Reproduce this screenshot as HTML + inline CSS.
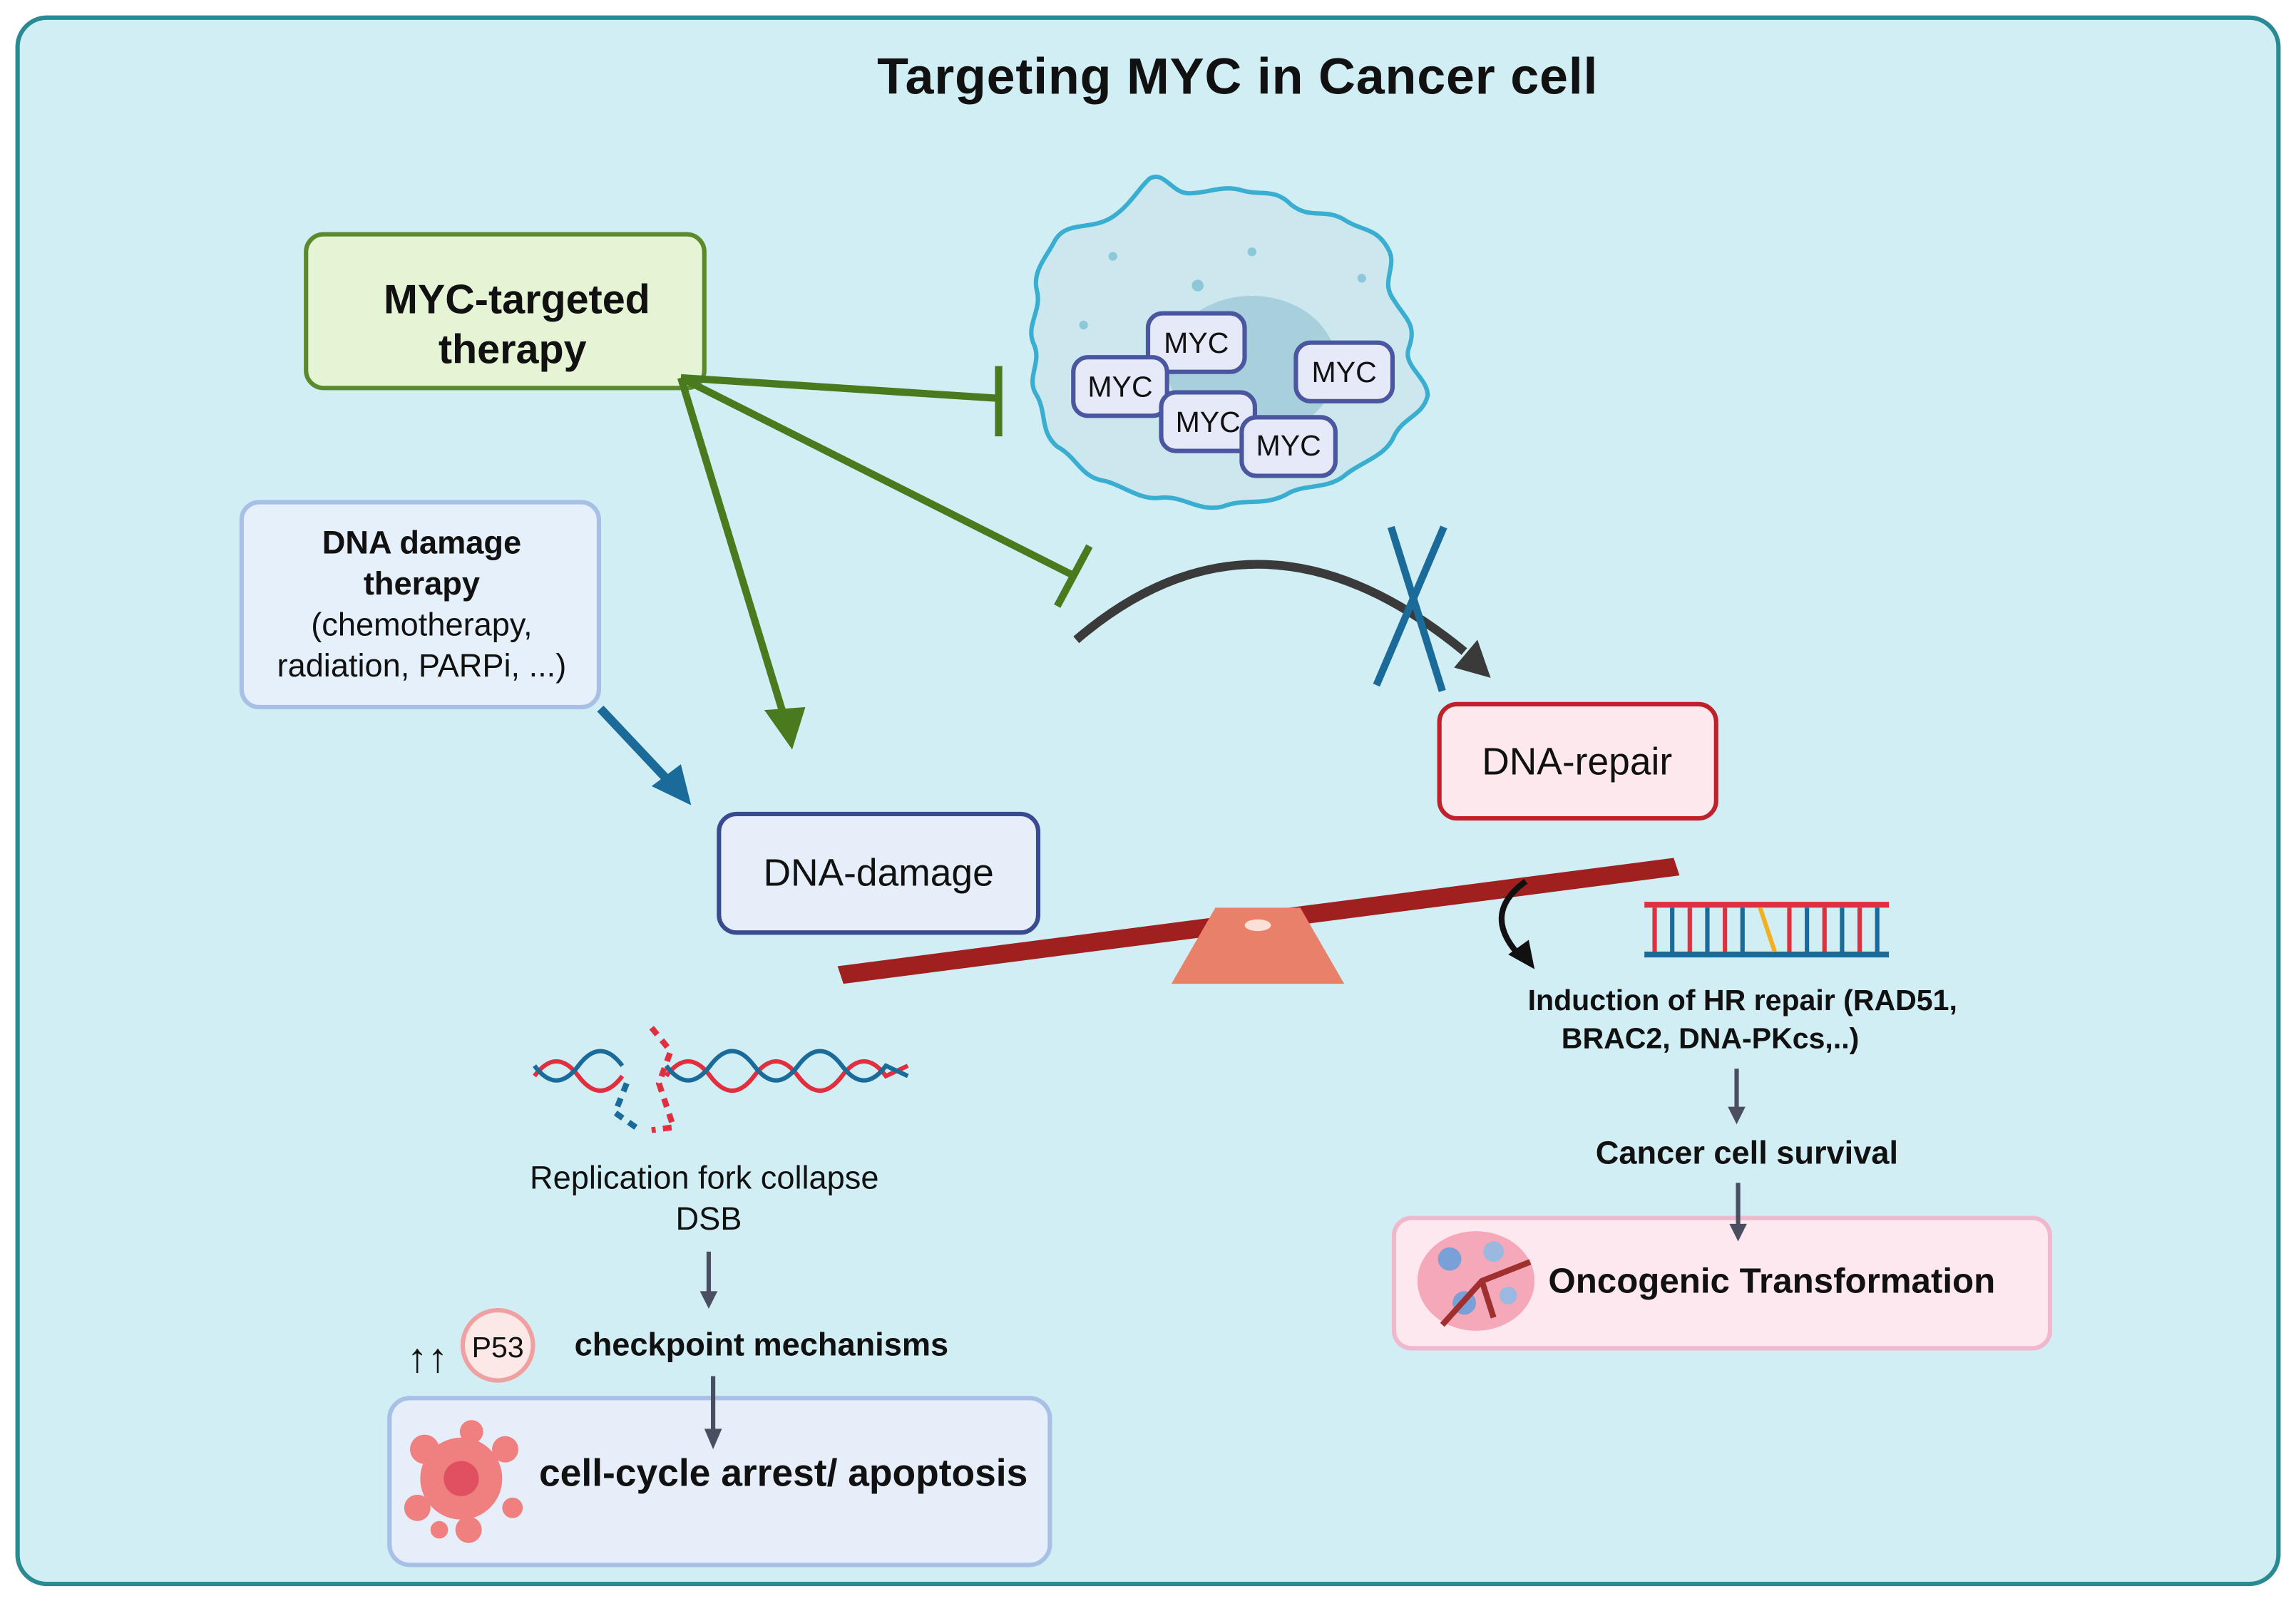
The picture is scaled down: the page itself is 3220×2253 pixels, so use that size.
<!DOCTYPE html>
<html><head><meta charset="utf-8"><style>
html,body{margin:0;padding:0;background:#fff}
svg{display:block}
text{font-family:"Liberation Sans",sans-serif}
</style></head><body>
<svg width="3220" height="2253" viewBox="0 0 1568 1097" xmlns="http://www.w3.org/2000/svg">
<rect x="12" y="12" width="1544" height="1070" rx="20" fill="#d1eef4" stroke="#2a8a94" stroke-width="3"/>
<text x="845" y="64" font-size="35" font-weight="bold" text-anchor="middle" fill="#111" textLength="492">Targeting MYC in Cancer cell</text>

<!-- cell -->
<path d="M720,165 C728,150 745,158 760,148 C772,140 778,128 785,122 C795,116 800,132 812,132 C825,132 835,126 848,130 C862,134 870,128 882,140 C895,150 905,142 918,150 C930,158 940,155 948,170 C955,182 942,192 952,205 C960,218 968,222 962,238 C958,250 975,258 975,270 C972,284 958,285 952,298 C946,312 930,315 918,325 C905,335 890,330 878,338 C862,346 850,340 835,346 C818,350 808,338 792,340 C778,342 765,330 752,328 C738,325 735,312 722,305 C710,295 715,282 708,270 C700,258 712,248 706,235 C700,222 712,212 708,198 C705,185 715,175 720,165 Z" fill="#cde7ef" stroke="#3aaed0" stroke-width="3"/>
<ellipse cx="855" cy="250" rx="58" ry="48" fill="#a7cfdc"/>
<circle cx="760" cy="175" r="3" fill="#8cc8d8"/><circle cx="818" cy="195" r="4" fill="#8cc8d8"/><circle cx="930" cy="190" r="3" fill="#8cc8d8"/><circle cx="740" cy="222" r="3" fill="#8cc8d8"/><circle cx="855" cy="172" r="3" fill="#8cc8d8"/>
<g font-size="20" text-anchor="middle" fill="#111">
<rect x="784" y="214" width="66" height="40" rx="10" fill="#e6eaf8" stroke="#4a56a0" stroke-width="3"/><text x="817" y="241">MYC</text>
<rect x="733" y="244" width="64" height="40" rx="10" fill="#e6eaf8" stroke="#4a56a0" stroke-width="3"/><text x="765" y="271">MYC</text>
<rect x="885" y="234" width="66" height="40" rx="10" fill="#e6eaf8" stroke="#4a56a0" stroke-width="3"/><text x="918" y="261">MYC</text>
<rect x="793" y="268" width="64" height="40" rx="10" fill="#e6eaf8" stroke="#4a56a0" stroke-width="3"/><text x="825" y="295">MYC</text>
<rect x="848" y="285" width="64" height="40" rx="10" fill="#e6eaf8" stroke="#4a56a0" stroke-width="3"/><text x="880" y="311">MYC</text>
</g>

<rect x="209" y="160" width="272" height="105" rx="12" fill="#e6f4d6" stroke="#5a8a2a" stroke-width="3"/>
<text x="353" y="214" font-size="28" font-weight="bold" text-anchor="middle" fill="#111">MYC-targeted</text>
<text x="350" y="248" font-size="28" font-weight="bold" text-anchor="middle" fill="#111">therapy</text>

<g stroke="#4a7a1e" stroke-width="5" fill="none">
<line x1="465" y1="258" x2="681" y2="272"/>
<line x1="682" y1="250" x2="682" y2="298"/>
<line x1="465" y1="258" x2="733" y2="393"/>
<line x1="722" y1="414" x2="744" y2="373"/>
<line x1="465" y1="258" x2="535" y2="488"/>
</g>
<polygon points="522,485 550,483 541,512" fill="#4a7a1e"/>

<rect x="165" y="343" width="244" height="140" rx="12" fill="#e6f0fa" stroke="#a8c0e6" stroke-width="3"/>
<g font-size="22" text-anchor="middle" fill="#111">
<text x="288" y="378" font-weight="bold">DNA damage</text>
<text x="288" y="406" font-weight="bold">therapy</text>
<text x="288" y="434">(chemotherapy,</text>
<text x="288" y="462">radiation, PARPi, ...)</text>
</g>
<line x1="410" y1="484" x2="458" y2="535" stroke="#1a6a9a" stroke-width="6"/>
<polygon points="445,537 472,550 465,522" fill="#1a6a9a"/>

<path d="M735,437 Q860,330 1000,445" stroke="#3a3a3a" stroke-width="6" fill="none"/>
<polygon points="993,456 1018,463 1009,437" fill="#3a3a3a"/>
<line x1="940" y1="468" x2="986" y2="360" stroke="#1a6a9a" stroke-width="5"/>
<line x1="950" y1="360" x2="985" y2="472" stroke="#1a6a9a" stroke-width="5"/>

<rect x="491" y="556" width="218" height="81" rx="12" fill="#e6eefa" stroke="#3a4a90" stroke-width="3"/>
<text x="600" y="605" font-size="26" text-anchor="middle" fill="#111">DNA-damage</text>
<rect x="983" y="481" width="189" height="78" rx="12" fill="#fde8ee" stroke="#c0202a" stroke-width="3"/>
<text x="1077" y="529" font-size="26" text-anchor="middle" fill="#111">DNA-repair</text>

<polygon points="572,660 1143,586 1147,598 576,672" fill="#a02020"/>
<polygon points="800,672 918,672 888,620 830,620" fill="#e8806a"/>
<ellipse cx="859" cy="632" rx="9" ry="4" fill="#fbe0d8"/>
<path d="M1042,602 Q1010,625 1040,655" stroke="#111" stroke-width="4" fill="none"/>
<polygon points="1030,652 1048,662 1044,642" fill="#111"/>

<g>
<rect x="1123" y="616" width="167" height="4" fill="#e03040"/>
<rect x="1123" y="650" width="167" height="4" fill="#1a6a9a"/>
<g stroke-width="3">
<line x1="1130" y1="620" x2="1130" y2="650" stroke="#e03040"/><line x1="1142" y1="620" x2="1142" y2="650" stroke="#1a6a9a"/><line x1="1154" y1="620" x2="1154" y2="650" stroke="#e03040"/><line x1="1166" y1="620" x2="1166" y2="650" stroke="#1a6a9a"/><line x1="1178" y1="620" x2="1178" y2="650" stroke="#e03040"/><line x1="1190" y1="620" x2="1190" y2="650" stroke="#1a6a9a"/><line x1="1202" y1="620" x2="1212" y2="650" stroke="#f0b020"/><line x1="1222" y1="620" x2="1222" y2="650" stroke="#e03040"/><line x1="1234" y1="620" x2="1234" y2="650" stroke="#1a6a9a"/><line x1="1246" y1="620" x2="1246" y2="650" stroke="#e03040"/><line x1="1258" y1="620" x2="1258" y2="650" stroke="#1a6a9a"/><line x1="1270" y1="620" x2="1270" y2="650" stroke="#e03040"/><line x1="1282" y1="620" x2="1282" y2="650" stroke="#1a6a9a"/>
</g></g>
<g font-size="20" font-weight="bold" text-anchor="middle" fill="#111">
<text x="1190" y="690">Induction of HR repair (RAD51,</text>
<text x="1168" y="716">BRAC2, DNA-PKcs,..)</text>
</g>
<line x1="1186" y1="730" x2="1186" y2="758" stroke="#4a4e60" stroke-width="3"/><polygon points="1180,756 1192,756 1186,768" fill="#4a4e60"/>
<text x="1193" y="795" font-size="22" font-weight="bold" text-anchor="middle" fill="#111">Cancer cell survival</text>

<rect x="952" y="832" width="448" height="89" rx="12" fill="#fde8f0" stroke="#f0b8cc" stroke-width="3"/>
<line x1="1187" y1="808" x2="1187" y2="838" stroke="#4a4e60" stroke-width="3"/><polygon points="1181,836 1193,836 1187,848" fill="#4a4e60"/>
<ellipse cx="1008" cy="875" rx="40" ry="34" fill="#f4a8b8"/>
<circle cx="990" cy="860" r="8" fill="#7aa0d8"/><circle cx="1020" cy="855" r="7" fill="#9ab8e0"/><circle cx="1000" cy="890" r="8" fill="#7aa0d8"/><circle cx="1030" cy="885" r="6" fill="#9ab8e0"/>
<path d="M985,905 L1012,875 L1045,862 M1012,875 L1020,900" stroke="#a03030" stroke-width="4" fill="none"/>
<text x="1210" y="883" font-size="24" font-weight="bold" text-anchor="middle" fill="#111">Oncogenic Transformation</text>

<g fill="none" stroke-width="3">
<path d="M365,735 Q380,715 395,735 T425,735" stroke="#e03040"/>
<path d="M365,728 Q380,748 395,728 T425,728" stroke="#1a6a9a"/>
<path d="M455,735 Q470,715 485,735 T515,735 T545,735 T575,735 T605,735 L620,728" stroke="#e03040"/>
<path d="M455,728 Q470,748 485,728 T515,728 T545,728 T575,728 T605,728 L620,735" stroke="#1a6a9a"/>
<path d="M445,702 L458,718 L450,740 L460,770 L445,772" stroke="#e03040" stroke-dasharray="6,5" stroke-width="4"/>
<path d="M428,740 L420,760 L437,772" stroke="#1a6a9a" stroke-dasharray="6,5" stroke-width="4"/>
</g>
<text x="481" y="812" font-size="22" text-anchor="middle" fill="#111">Replication fork collapse</text>
<text x="484" y="840" font-size="22" text-anchor="middle" fill="#111">DSB</text>
<line x1="484" y1="855" x2="484" y2="884" stroke="#4a4e60" stroke-width="3"/><polygon points="478,882 490,882 484,894" fill="#4a4e60"/>

<text x="292" y="937" font-size="28" font-weight="bold" text-anchor="middle" fill="#111">↑↑</text>
<circle cx="340" cy="919" r="24" fill="#fde8e8" stroke="#f0a0a0" stroke-width="3"/>
<text x="340" y="927" font-size="20" text-anchor="middle" fill="#111">P53</text>
<text x="520" y="926" font-size="22" font-weight="bold" text-anchor="middle" fill="#111">checkpoint mechanisms</text>

<rect x="266" y="955" width="451" height="114" rx="14" fill="#e6eefa" stroke="#a8c0e6" stroke-width="3"/>
<line x1="487" y1="940" x2="487" y2="978" stroke="#4a4e60" stroke-width="3"/><polygon points="481,976 493,976 487,990" fill="#4a4e60"/>
<g fill="#f08080">
<circle cx="315" cy="1010" r="28"/><circle cx="290" cy="990" r="10"/><circle cx="345" cy="990" r="9"/><circle cx="285" cy="1030" r="9"/><circle cx="320" cy="1045" r="9"/><circle cx="350" cy="1030" r="7"/><circle cx="322" cy="978" r="8"/><circle cx="300" cy="1045" r="6"/>
</g>
<circle cx="315" cy="1010" r="12" fill="#e05060"/>
<text x="535" y="1015" font-size="26" font-weight="bold" text-anchor="middle" fill="#111">cell-cycle arrest/ apoptosis</text>
</svg>
</body></html>
